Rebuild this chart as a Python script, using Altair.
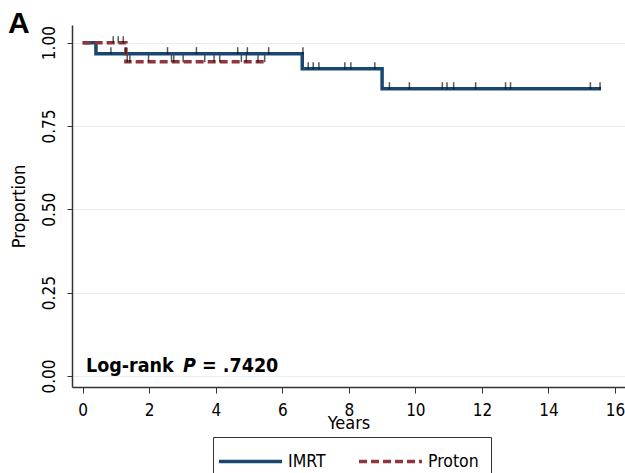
import altair as alt
import pandas as pd

# Kaplan-Meier step points (time in years, survival proportion)
imrt_time = [0.0, 0.4, 6.6, 9.0, 15.58]
imrt_surv = [1.0, 0.967, 0.922, 0.862, 0.862]
proton_time = [0.0, 1.3, 5.5]
proton_surv = [1.0, 0.943, 0.943]

# censoring marks
imrt_cens_time = [0.85, 1.30, 2.55, 3.42, 4.66, 4.95, 5.59, 6.62,
                  6.78, 6.93, 7.10, 7.88, 8.06, 8.78,
                  9.22, 9.82, 10.81, 10.95, 11.15, 11.81, 12.71, 12.86, 15.26, 15.55]
imrt_cens_surv = [0.967] * 8 + [0.922] * 6 + [0.862] * 10
proton_cens_time = [0.92, 1.07, 1.22,
                    1.34, 1.42, 1.98, 2.67, 2.74, 3.02, 3.67, 3.95, 4.12, 4.77, 4.92, 5.27, 5.47]
proton_cens_surv = [1.0] * 3 + [0.943] * 13

groups = ["IMRT", "Proton"]
colors = ["#1a476f", "#90353b"]
x_ticks = [0, 2, 4, 6, 8, 10, 12, 14, 16]
y_ticks = [0.0, 0.25, 0.5, 0.75, 1.0]

FONT = "DejaVu Sans Condensed, DejaVu Sans, sans-serif"

curves = pd.concat([
    pd.DataFrame({"t": imrt_time, "s": imrt_surv, "g": "IMRT", "o": 1}),
    pd.DataFrame({"t": proton_time, "s": proton_surv, "g": "Proton", "o": 2}),
])
cens = pd.concat([
    pd.DataFrame({"t": imrt_cens_time, "s": imrt_cens_surv}),
    pd.DataFrame({"t": proton_cens_time, "s": proton_cens_surv}),
])

xs = alt.Scale(domain=[-0.32, 16.3], nice=False, zero=False)
ys = alt.Scale(domain=[-0.033, 1.053], nice=False, zero=False)

x_axis = alt.Axis(values=x_ticks, format="d", title="Years", grid=False,
                  tickSize=6, tickColor="#333", domainColor="#333", domainWidth=1.5,
                  labelFontSize=17, labelPadding=9, labelFont=FONT, labelColor="#000",
                  titleFontSize=18, titleFont=FONT, titleFontWeight="normal",
                  titlePadding=-4, titleColor="#000")
y_axis = alt.Axis(values=y_ticks, format=".2f", title="Proportion", grid=True,
                  gridColor="#e6eef1", gridWidth=1,
                  tickSize=5, tickColor="#333", domainColor="#333", domainWidth=1.5,
                  labelAngle=270, labelFontSize=17, labelPadding=9, labelFont=FONT,
                  labelColor="#000",
                  titleFontSize=18, titleFont=FONT, titleFontWeight="normal",
                  titlePadding=12, titleColor="#000")

lines = alt.Chart(curves).mark_line(interpolate="step-after", strokeWidth=3.5).encode(
    x=alt.X("t:Q", scale=xs, axis=x_axis),
    y=alt.Y("s:Q", scale=ys, axis=y_axis),
    color=alt.Color("g:N", scale=alt.Scale(domain=groups, range=colors),
                    legend=alt.Legend(title=None, orient="none", legendX=141, legendY=412,
                                      direction="horizontal", symbolType="M-1.76,0H4.24",
                                      symbolSize=441, symbolStrokeWidth=3.5,
                                      labelFontSize=17.5, labelFont=FONT, labelColor="#000",
                                      labelOffset=38, columnPadding=26,
                                      strokeColor="#333", padding=12)),
    strokeDash=alt.StrokeDash("g:N", scale=alt.Scale(domain=groups, range=[[1, 0], [8, 4]]),
                              legend=None),
    order="o:Q",
    detail="g:N",
)

ticks = alt.Chart(cens).mark_tick(orient="vertical", size=7, thickness=1.5, color="#111",
                                  yOffset=-3).encode(
    x=alt.X("t:Q", scale=xs, axis=x_axis),
    y=alt.Y("s:Q", scale=ys, axis=y_axis),
)

one = pd.DataFrame({"a": [0]})
t1 = alt.Chart(one).mark_text(
    text="Log-rank", align="left", baseline="alphabetic", fontSize=19.5, fontWeight="bold",
    font=FONT, color="#000").encode(x=alt.value(14), y=alt.value(347))
t2 = alt.Chart(one).mark_text(
    text="P", align="left", baseline="alphabetic", fontSize=19.5, fontWeight="bold",
    fontStyle="italic", font=FONT, color="#000").encode(x=alt.value(111), y=alt.value(347))
t3 = alt.Chart(one).mark_text(
    text="= .7420", align="left", baseline="alphabetic", fontSize=19.5, fontWeight="bold",
    font=FONT, color="#000").encode(x=alt.value(130), y=alt.value(347))
tA = alt.Chart(one).mark_text(
    text="A", align="left", baseline="alphabetic", fontSize=30, fontWeight="bold",
    font="Liberation Sans, Arial, sans-serif", color="#000").encode(x=alt.value(-64), y=alt.value(8))

chart = alt.layer(lines, ticks, t1, t2, t3, tA).properties(
    width=553, height=362,
    background="white",
    padding={"left": 72, "top": 25, "right": 0, "bottom": 86},
    autosize=alt.AutoSizeParams(type="none"),
).configure_view(stroke=None)

chart.save("out.html", embed_options={"renderer": "svg", "actions": False})
